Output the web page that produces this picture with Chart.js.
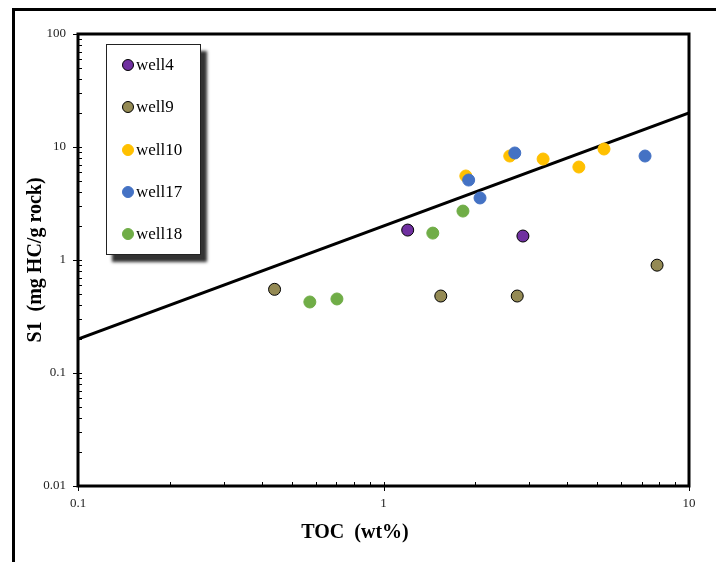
<!DOCTYPE html>
<html>
<head>
<meta charset="utf-8">
<script src="https://cdn.jsdelivr.net/npm/chart.js@4.4.1/dist/chart.umd.min.js"></script>
<style>
  body { margin: 0; background: #fff; overflow: hidden; }
  #wrap { position: relative; width: 716px; height: 562px; }
  #legend {
    position: absolute; left: 106px; top: 44px; width: 93px; height: 209px;
    border: 1px solid #222; background: #fff;
    box-shadow: 6px 7px 3px #333;
    font-family: "Liberation Serif", "Times New Roman", serif; font-size: 17px; color: #000;
  }
  #legend .row { position: absolute; left: 15px; height: 20px; line-height: 20px; white-space: nowrap; }
  #legend .dot { display: inline-block; width: 12px; height: 12px; border-radius: 50%; vertical-align: -1px; margin-right: 2px; box-sizing: border-box; }
</style>
</head>
<body>
<div id="wrap">
  <canvas id="myChart"></canvas>
  <div id="legend"></div>
</div>
<script>
const seriesNames = ['well4', 'well9', 'well10', 'well17', 'well18'];
const colors = ['#7030A0', '#948A54', '#FFC000', '#4472C4', '#70AD47'];
const outlines = ['#000', '#000', '#FFC000', '#4472C4', '#70AD47'];

const toc4 = [1.20, 2.86];
const s1_4 = [1.84, 1.63];
const toc9 = [0.44, 1.54, 2.74, 7.86];
const s1_9 = [0.55, 0.48, 0.48, 0.90];
const toc10 = [1.86, 2.59, 3.33, 4.36, 5.27];
const s1_10 = [5.54, 8.32, 7.83, 6.65, 9.6];
const toc17 = [2.69, 1.90, 2.07, 7.18];
const s1_17 = [8.85, 5.1, 3.54, 8.32];
const toc18 = [1.82, 1.45, 0.574, 0.704];
const s1_18 = [2.71, 1.73, 0.425, 0.452];

const lineX = [0.1, 10];
const lineY = [0.2, 20];

const xTicks = [0.1, 1, 10];
const xTickLabels = ['0.1', '1', '10'];
const yTicks = [0.01, 0.1, 1, 10, 100];
const yTickLabels = ['0.01', '0.1', '1', '10', '100'];

const xTitle = 'TOC  (wt%)';
const yTitle = 'S1  (mg HC/g rock)';

const tocs = [toc4, toc9, toc10, toc17, toc18];
const s1s = [s1_4, s1_9, s1_10, s1_17, s1_18];
const drawOrder = [1, 1, 3, 2, 1];

const pts = (xs, ys) => xs.map((x, i) => ({ x: x, y: ys[i] }));

const datasets = seriesNames.map((name, i) => ({
  type: 'scatter',
  label: name,
  data: pts(tocs[i], s1s[i]),
  backgroundColor: colors[i],
  borderColor: outlines[i],
  borderWidth: 1,
  pointRadius: 6,
  pointHoverRadius: 6,
  order: drawOrder[i],
}));

datasets.push({
  type: 'line',
  label: 'trend',
  data: pts(lineX, lineY),
  borderColor: '#000',
  borderWidth: 3,
  pointRadius: 0,
  fill: false,
  order: 10,
});

const serif = '"Liberation Serif", "Times New Roman", serif';

// frame, plot box, the little inside ticks and the x title (it sits left of centre)
const decor = {
  id: 'decor',
  beforeDraw(chart) {
    const c = chart.ctx;
    c.save();
    c.fillStyle = '#fff';
    c.fillRect(0, 0, chart.width, chart.height);
    c.strokeStyle = '#000';
    c.lineWidth = 3;
    c.strokeRect(13.5, 9.5, 720, 600);
    c.restore();
  },
  afterDraw(chart) {
    const c = chart.ctx;
    const a = chart.chartArea;
    const xs = chart.scales.x, ys = chart.scales.y;
    c.save();
    c.strokeStyle = '#000';
    c.lineWidth = 3;
    c.strokeRect(a.left, a.top, a.right - a.left, a.bottom - a.top);
    c.lineWidth = 1;
    c.beginPath();
    for (let d = 0.01; d < 100; d *= 10) {
      for (let k = 1; k < 10; k++) {
        const y = Math.round(ys.getPixelForValue(d * k)) + 0.5;
        const major = k === 1;
        c.moveTo(a.left - (major ? 5 : 0), y);
        c.lineTo(a.left + 4, y);
      }
    }
    for (let d = 0.1; d < 10; d *= 10) {
      for (let k = 1; k < 10; k++) {
        const x = Math.round(xs.getPixelForValue(d * k)) + 0.5;
        const major = k === 1;
        c.moveTo(x, a.bottom + (major ? 5 : 0));
        c.lineTo(x, a.bottom - 4);
      }
    }
    const xr = Math.round(xs.getPixelForValue(10)) + 0.5;
    c.moveTo(xr, a.bottom + 5); c.lineTo(xr, a.bottom);
    const yt = Math.round(ys.getPixelForValue(100)) + 0.5;
    c.moveTo(a.left - 5, yt); c.lineTo(a.left, yt);
    c.stroke();

    c.fillStyle = '#000';
    c.font = 'bold 20px ' + serif;
    c.textAlign = 'center';
    c.textBaseline = 'middle';
    c.fillText(xTitle, 355, 533);
    c.restore();
  }
};

new Chart(document.getElementById('myChart'), {
  data: { datasets: datasets },
  options: {
    responsive: true,
    maintainAspectRatio: false,
    animation: false,
    layout: { padding: { left: 0, top: 34, right: 27, bottom: 0 } },
    plugins: {
      legend: { display: false },
      tooltip: { enabled: false },
    },
    scales: {
      x: {
        type: 'logarithmic',
        position: 'bottom',
        min: 0.1,
        max: 10,
        afterBuildTicks: (s) => { s.ticks = xTicks.map(v => ({ value: v })); },
        afterFit: (s) => { s.height = 76; },
        grid: { display: false, drawTicks: false },
        border: { display: false },
        ticks: {
          autoSkip: false,
          maxRotation: 0,
          padding: 10,
          color: '#222',
          font: { family: serif, size: 13 },
          callback: (v) => { const i = xTicks.indexOf(v); return i >= 0 ? xTickLabels[i] : ''; },
        },
        title: { display: false },
      },
      y: {
        type: 'logarithmic',
        min: 0.01,
        max: 100,
        afterBuildTicks: (s) => { s.ticks = yTicks.map(v => ({ value: v })); },
        afterFit: (s) => { s.width = 78; },
        grid: { display: false, drawTicks: false },
        border: { display: false },
        ticks: {
          autoSkip: false,
          padding: 12,
          color: '#222',
          font: { family: serif, size: 13 },
          callback: (v) => { const i = yTicks.indexOf(v); return i >= 0 ? yTickLabels[i] : ''; },
        },
        title: {
          display: true,
          text: yTitle,
          color: '#000',
          font: { family: serif, size: 20, weight: 'bold' },
          padding: { top: 24, bottom: 24 },
        },
      },
    },
  },
  plugins: [decor],
});

// legend box built from the same series
const leg = document.getElementById('legend');
seriesNames.forEach((name, i) => {
  const row = document.createElement('div');
  row.className = 'row';
  row.style.top = (10 + i * 42.3) + 'px';
  const dot = document.createElement('span');
  dot.className = 'dot';
  dot.style.background = colors[i];
  dot.style.border = '1px solid ' + outlines[i];
  row.appendChild(dot);
  row.appendChild(document.createTextNode(name));
  leg.appendChild(row);
});
</script>
</body>
</html>
